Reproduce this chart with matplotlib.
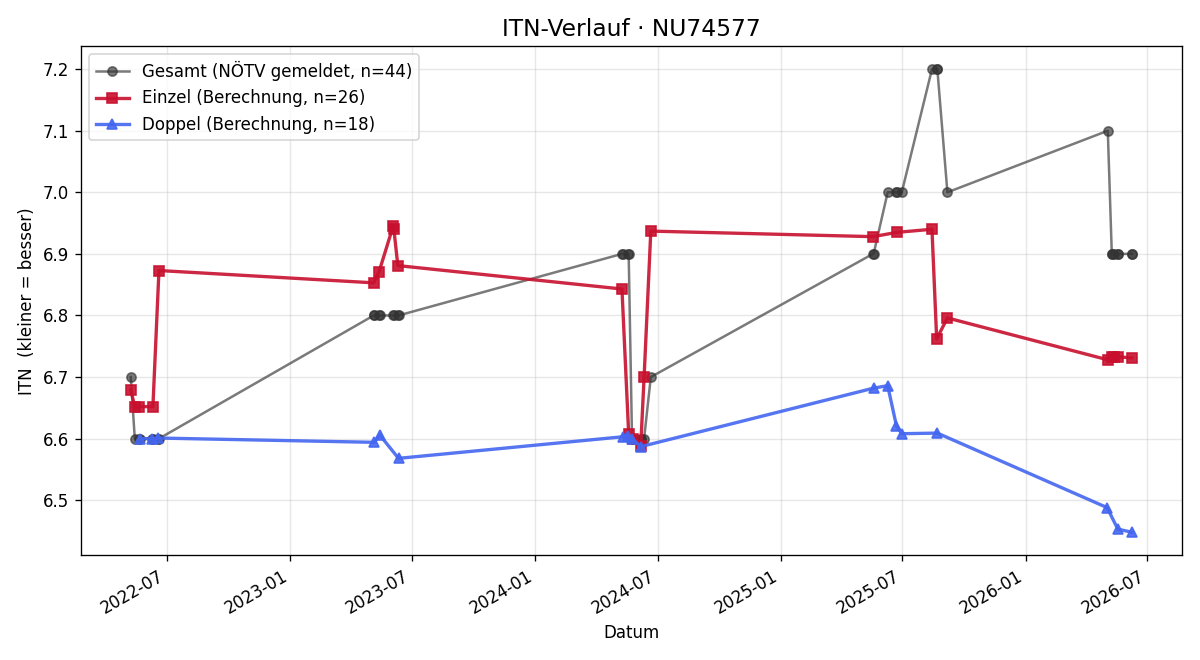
import pandas as pd
import matplotlib.pyplot as plt
import matplotlib.dates as mdates

# Gesamt (gemeldeter ITN)
gesamt_dates = [
    "2022-05-08", "2022-05-14", "2022-05-20", "2022-05-22", "2022-06-09", "2022-06-10", "2022-06-17", "2022-06-19",
    "2023-05-05", "2023-05-06", "2023-05-13", "2023-05-14", "2023-06-03", "2023-06-04", "2023-06-10", "2023-06-11",
    "2024-05-09", "2024-05-10", "2024-05-18", "2024-05-19", "2024-05-24", "2024-05-25", "2024-06-06", "2024-06-06",
    "2024-06-11", "2024-06-21",
    "2025-05-18", "2025-05-19", "2025-06-09", "2025-06-22", "2025-06-23", "2025-06-30", "2025-08-14", "2025-08-21",
    "2025-08-22", "2025-09-06",
    "2026-05-03", "2026-05-09", "2026-05-10", "2026-05-12", "2026-05-18", "2026-05-18", "2026-06-08", "2026-06-08",
]
gesamt_itn = [
    6.7, 6.6, 6.6, 6.6, 6.6, 6.6, 6.6, 6.6,
    6.8, 6.8, 6.8, 6.8, 6.8, 6.8, 6.8, 6.8,
    6.9, 6.9, 6.9, 6.9, 6.6, 6.6, 6.6, 6.6, 6.6, 6.7,
    6.9, 6.9, 7.0, 7.0, 7.0, 7.0, 7.2, 7.2, 7.2, 7.0,
    7.1, 6.9, 6.9, 6.9, 6.9, 6.9, 6.9, 6.9,
]

# Einzel (Berechnung)
einzel_dates = [
    "2022-05-08", "2022-05-14", "2022-05-20", "2022-06-10", "2022-06-19",
    "2023-05-05", "2023-05-13", "2023-06-03", "2023-06-04", "2023-06-10",
    "2024-05-09", "2024-05-19", "2024-05-25", "2024-06-06", "2024-06-11", "2024-06-21",
    "2025-05-18", "2025-06-23", "2025-08-14", "2025-08-21", "2025-09-06",
    "2026-05-03", "2026-05-09", "2026-05-12", "2026-05-18", "2026-06-08",
]
einzel_itn = [
    6.679, 6.652, 6.652, 6.652, 6.873,
    6.853, 6.871, 6.945, 6.941, 6.881,
    6.843, 6.608, 6.600, 6.588, 6.700, 6.937,
    6.928, 6.935, 6.940, 6.762, 6.796,
    6.728, 6.732, 6.733, 6.733, 6.731,
]

# Doppel (Berechnung)
doppel_dates = [
    "2022-05-22", "2022-06-09", "2022-06-17",
    "2023-05-06", "2023-05-14", "2023-06-11",
    "2024-05-10", "2024-05-18", "2024-05-24", "2024-06-06",
    "2025-05-19", "2025-06-09", "2025-06-22", "2025-06-30", "2025-08-22",
    "2026-05-02", "2026-05-18", "2026-06-08",
]
doppel_itn = [
    6.600, 6.600, 6.601,
    6.594, 6.606, 6.568,
    6.603, 6.605, 6.600, 6.587,
    6.682, 6.686, 6.621, 6.608, 6.609,
    6.488, 6.453, 6.448,
]

fig, ax = plt.subplots(figsize=(10, 5.5), dpi=120)

ax.plot(pd.to_datetime(gesamt_dates), gesamt_itn, color="#333333", alpha=0.65,
        marker="o", markersize=5.5, linewidth=1.5,
        label=f"Gesamt (NÖTV gemeldet, n={len(gesamt_itn)})")
ax.plot(pd.to_datetime(einzel_dates), einzel_itn, color="#c8102e", alpha=0.9,
        marker="s", markersize=6.5, linewidth=2,
        label=f"Einzel (Berechnung, n={len(einzel_itn)})")
ax.plot(pd.to_datetime(doppel_dates), doppel_itn, color="#4466f0", alpha=0.9,
        marker="^", markersize=6.5, linewidth=2,
        label=f"Doppel (Berechnung, n={len(doppel_itn)})")

ax.xaxis.set_major_locator(mdates.MonthLocator(bymonth=[1, 7]))
ax.xaxis.set_major_formatter(mdates.DateFormatter("%Y-%m"))
fig.autofmt_xdate()

ax.set_title("ITN-Verlauf · NU74577", fontsize=14)
ax.set_xlabel("Datum")
ax.set_ylabel("ITN  (kleiner = besser)")
ax.grid(True, alpha=0.3)
ax.legend(loc="upper left")

plt.tight_layout()
plt.savefig("out.png")
